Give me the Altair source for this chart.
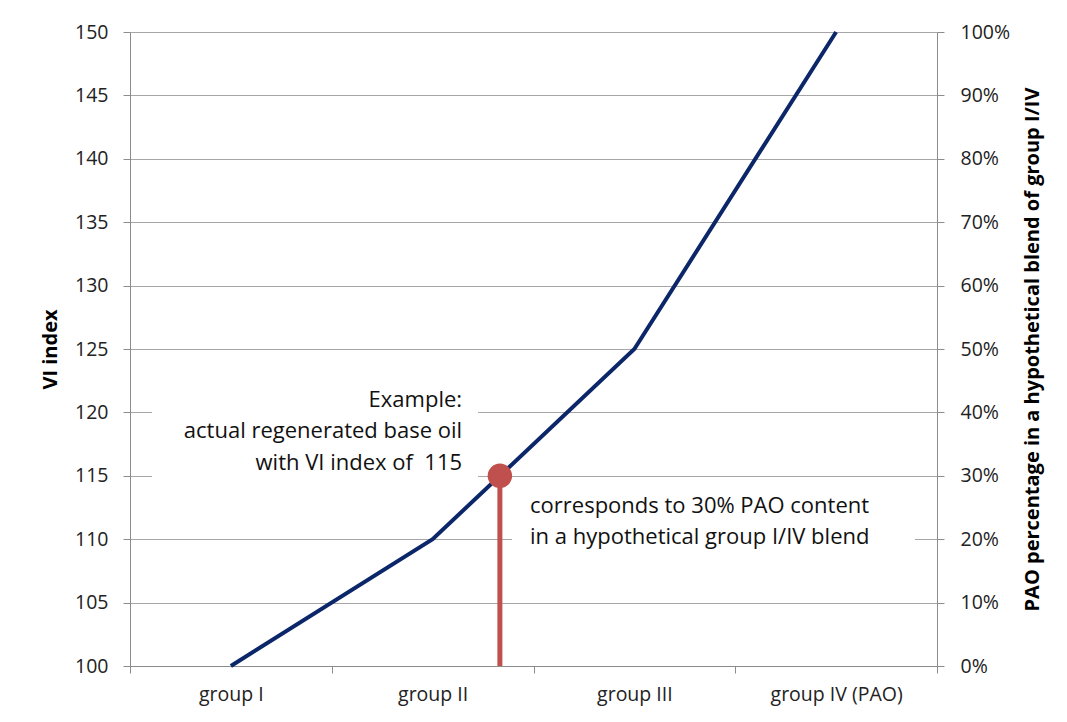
import json
import altair as alt
import numpy as np
import pandas as pd

# ---- data ----
groups = ["group I", "group II", "group III", "group IV (PAO)"]
vi_values = [100, 110, 125, 150]
pao_ticks = [0.0, 0.1, 0.2, 0.3, 0.4, 0.5, 0.6, 0.7, 0.8, 0.9, 1.0]
vi_ticks = [100, 105, 110, 115, 120, 125, 130, 135, 140, 145, 150]
example_vi = 115
example_text_1 = "Example:\nactual regenerated base oil\nwith VI index of \u00a0115"
example_text_2 = "corresponds to 30% PAO content\nin a hypothetical group I/IV blend"

# category centres on a continuous band axis
positions = [i + 0.5 for i in range(len(groups))]
example_pos = float(np.interp(example_vi, vi_values, positions))

W, H = 807, 634
FONT = "Open Sans"
RED = "#c0504d"
NAVY = "#0c2769"

xscale = alt.Scale(domain=[0, len(groups)], nice=False, zero=False)
yscale = alt.Scale(domain=[100, 150], nice=False, zero=False)

label_expr = "datum.value < %d ? %s[datum.value] : ''" % (len(groups), json.dumps(groups))

xaxis = alt.Axis(
    values=list(range(len(groups) + 1)),
    labelExpr=label_expr,
    labelOffset=W / len(groups) / 2,
    labelFlush=False,
    labelOverlap=False,
    tickSize=7,
    labelPadding=12,
    grid=False,
    title=None,
)
yaxis = alt.Axis(
    values=vi_ticks,
    tickSize=7,
    labelPadding=15,
    grid=True,
    title="VI index",
    titlePadding=14,
)

line_df = pd.DataFrame({"pos": positions, "vi": vi_values, "group": groups})

# annotation boxes (white backgrounds behind texts), in data units
box_df = pd.DataFrame({
    "x": [0.109, 1.893],
    "x2": [1.725, 3.891],
    "y": [114.5, 108.4],
    "y2": [122.2, 114.5],
})
boxes = alt.Chart(box_df).mark_rect(fill="white").encode(
    x=alt.X("x:Q", scale=xscale, axis=xaxis),
    x2="x2:Q",
    y=alt.Y("y:Q", scale=yscale, axis=yaxis),
    y2="y2:Q",
)

line = alt.Chart(line_df).mark_line(color=NAVY, strokeWidth=4).encode(
    x=alt.X("pos:Q", scale=xscale, axis=xaxis),
    y=alt.Y("vi:Q", scale=yscale, axis=yaxis),
)

ex_df = pd.DataFrame({"pos": [example_pos], "vi": [example_vi], "base": [100]})
rule = alt.Chart(ex_df).mark_rule(color=RED, strokeWidth=5).encode(
    x=alt.X("pos:Q", scale=xscale),
    y=alt.Y("base:Q", scale=yscale),
    y2="vi:Q",
)
point = alt.Chart(ex_df).mark_circle(size=600, color=RED, opacity=1).encode(
    x=alt.X("pos:Q", scale=xscale),
    y=alt.Y("vi:Q", scale=yscale),
)

txt_df = pd.DataFrame({
    "x": [1.646, 1.983],
    "y": [120.43, 112.07],
    "t": [example_text_1, example_text_2],
})
text1 = alt.Chart(txt_df.iloc[[0]]).mark_text(
    align="right", baseline="alphabetic", lineBreak="\n", lineHeight=31.5,
    fontSize=22, font=FONT, color="#111111",
).encode(x=alt.X("x:Q", scale=xscale), y=alt.Y("y:Q", scale=yscale), text="t:N")
text2 = alt.Chart(txt_df.iloc[[1]]).mark_text(
    align="left", baseline="alphabetic", lineBreak="\n", lineHeight=31.5,
    fontSize=22, font=FONT, color="#111111",
).encode(x=alt.X("x:Q", scale=xscale), y=alt.Y("y:Q", scale=yscale), text="t:N")

left = alt.layer(boxes, line, rule, point, text1, text2)

pct_df = pd.DataFrame({"pct": [0.0, 1.0]})
right = alt.Chart(pct_df).mark_point(opacity=0).encode(
    y=alt.Y(
        "pct:Q",
        scale=alt.Scale(domain=[0, 1], nice=False, zero=False),
        axis=alt.Axis(
            orient="right",
            values=pao_ticks,
            format=".0%",
            tickSize=7,
            labelPadding=16,
            grid=False,
            title="PAO percentage in a hypothetical blend of group I/IV",
            titleAngle=270,
            titleBaseline="top",
            titlePadding=13,
        ),
    )
)

chart = (
    alt.layer(left, right)
    .resolve_scale(y="independent")
    .properties(
        width=W,
        height=H,
        autosize=alt.AutoSizeParams(type="none"),
        padding={"left": 122, "top": 24, "right": 122, "bottom": 44},
    )
    .configure_view(strokeWidth=0)
    .configure_axis(
        labelFont=FONT,
        labelFontSize=19.5,
        labelColor="#222222",
        titleFont=FONT,
        titleFontSize=20,
        titleFontWeight="bold",
        titleColor="#000000",
        gridColor="#a6a6a6",
        gridWidth=1,
        domainColor="#8c8c8c",
        tickColor="#8c8c8c",
        domainWidth=1,
        tickWidth=1,
    )
)

chart.save("out.html", embed_options={"renderer": "svg", "actions": False})
